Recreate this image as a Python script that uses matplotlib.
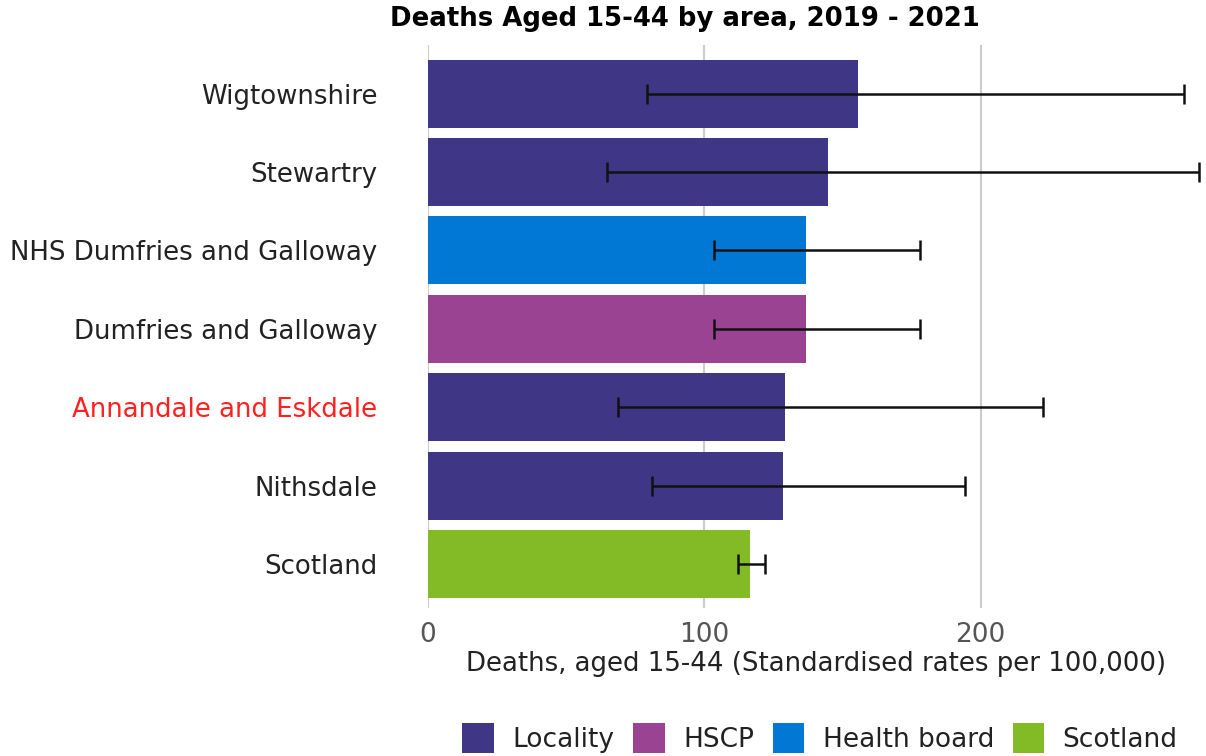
import matplotlib.pyplot as plt
from matplotlib.patches import Patch

# Standardised death rates (15-44) per 100,000, with 95% confidence limits
areas = ["Wigtownshire", "Stewartry", "NHS Dumfries and Galloway",
         "Dumfries and Galloway", "Annandale and Eskdale", "Nithsdale", "Scotland"]
area_types = ["Locality", "Locality", "Health board", "HSCP",
              "Locality", "Locality", "Scotland"]
rates = [155.6, 144.8, 136.7, 136.7, 129.3, 128.5, 116.6]
lower_ci = [79.4, 64.8, 103.5, 103.5, 68.9, 81.3, 112.4]
upper_ci = [273.6, 279.0, 178.1, 178.1, 222.6, 194.3, 122.1]

type_colours = {
    "Locality": "#3f3685",
    "HSCP": "#9b4393",
    "Health board": "#0078d4",
    "Scotland": "#83bb26",
}
chosen_area = "Annandale and Eskdale"

fig = plt.figure(figsize=(12.06, 7.56), dpi=100)
ax = fig.add_axes([0.3545, 0.1958, 0.6438, 0.7447])

ypos = list(range(len(areas)))
colours = [type_colours[t] for t in area_types]
ax.barh(ypos, rates, height=0.866, color=colours, zorder=2)

err_lo = [r - lo for r, lo in zip(rates, lower_ci)]
err_hi = [hi - r for r, hi in zip(rates, upper_ci)]
ax.errorbar(rates, ypos, xerr=[err_lo, err_hi], fmt="none", ecolor="#111111",
            elinewidth=1.8, capsize=7, capthick=1.8, zorder=3)

ax.set_xlim(0, 280.7)
ax.set_ylim(6.56, -0.62)
ax.set_xticks([0, 100, 200])
ax.set_yticks(ypos)
ax.set_yticklabels(areas, fontsize=18.7, color="#222222")
for lab in ax.get_yticklabels():
    if lab.get_text() == chosen_area:
        lab.set_color("#ff2020")
ax.tick_params(axis="x", length=0, pad=10, labelsize=19, labelcolor="#555555")
ax.tick_params(axis="y", length=0, pad=36)
ax.grid(axis="x", color="#cccccc", linewidth=1.5, zorder=0)
ax.set_axisbelow(True)
for s in ax.spines.values():
    s.set_visible(False)

ax.set_xlabel("Deaths, aged 15-44 (Standardised rates per 100,000)",
              fontsize=18.7, color="#222222", labelpad=2)
fig.text(0.568, 0.975, "Deaths Aged 15-44 by area, 2019 - 2021",
         ha="center", va="center", fontsize=18.7, fontweight="bold")

handles = [Patch(facecolor=c, label=k) for k, c in type_colours.items()]
fig.legend(handles=handles, loc="center", bbox_to_anchor=(0.68, 0.024), ncol=4,
           frameon=False, fontsize=19, handlelength=1.2, handleheight=1.4,
           handletextpad=0.7, columnspacing=0.7, labelcolor="#222222")

fig.savefig("out.png", dpi=100)
